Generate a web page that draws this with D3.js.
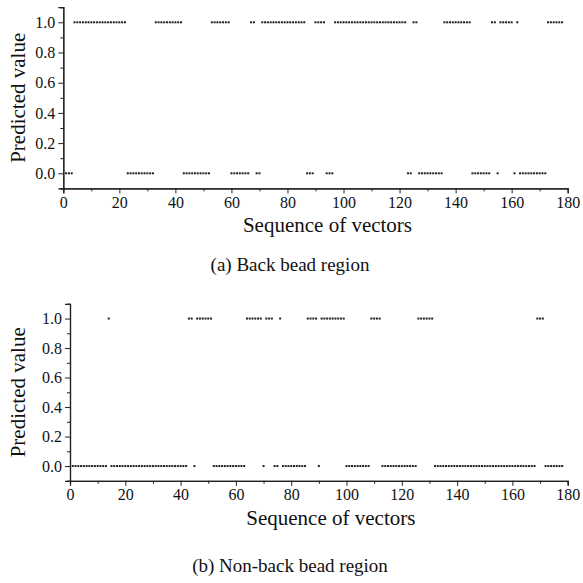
<!DOCTYPE html>
<html>
<head>
<meta charset="utf-8">
<script src="https://cdn.jsdelivr.net/npm/d3@7"></script>
<style>
  body { margin: 0; background: #fff; }
  svg text { font-family: "Liberation Serif", "Times New Roman", Times, "DejaVu Serif", serif; fill: #111; }
</style>
</head>
<body>
<div id="chart"></div>
<script>
// predicted value for vectors 1..178, back bead region
var predBack = [
  0,0,0,1,1,1,1,1,1,1,
  1,1,1,1,1,1,1,1,1,1,
  1,1,0,0,0,0,0,0,0,0,
  0,0,1,1,1,1,1,1,1,1,
  1,1,0,0,0,0,0,0,0,0,
  0,0,1,1,1,1,1,1,1,0,
  0,0,0,0,0,0,1,1,0,0,
  1,1,1,1,1,1,1,1,1,1,
  1,1,1,1,1,1,0,0,0,1,
  1,1,1,0,0,0,1,1,1,1,
  1,1,1,1,1,1,1,1,1,1,
  1,1,1,1,1,1,1,1,1,1,
  1,1,0,0,1,1,0,0,0,0,
  0,0,0,0,0,1,1,1,1,1,
  1,1,1,1,1,0,0,0,0,0,
  0,0,1,1,0,1,1,1,1,1,
  0,1,0,0,0,0,0,0,0,0,
  0,0,1,1,1,1,1,1
];
// predicted value for vectors 1..178, non-back bead region
var predNonBack = [
  0,0,0,0,0,0,0,0,0,0,
  0,0,0,1,0,0,0,0,0,0,
  0,0,0,0,0,0,0,0,0,0,
  0,0,0,0,0,0,0,0,0,0,
  0,0,1,1,0,1,1,1,1,1,
  1,0,0,0,0,0,0,0,0,0,
  0,0,0,1,1,1,1,1,1,0,
  1,1,1,0,0,1,0,0,0,0,
  0,0,0,0,0,1,1,1,1,0,
  1,1,1,1,1,1,1,1,1,0,
  0,0,0,0,0,0,0,0,1,1,
  1,1,0,0,0,0,0,0,0,0,
  0,0,0,0,0,1,1,1,1,1,
  1,0,0,0,0,0,0,0,0,0,
  0,0,0,0,0,0,0,0,0,0,
  0,0,0,0,0,0,0,0,0,0,
  0,0,0,0,0,0,0,0,1,1,
  1,0,0,0,0,0,0,0
];
var xTicks = [0, 20, 40, 60, 80, 100, 120, 140, 160, 180];
var yTicks = [0.0, 0.2, 0.4, 0.6, 0.8, 1.0];
var captions = ["(a) Back bead region", "(b) Non-back bead region"];

var serif = '"Liberation Serif", "Times New Roman", Times, "DejaVu Serif", serif';

var svg = d3.select('#chart').append('svg')
    .attr('width', 583)
    .attr('height', 583);

function drawPanel(values, opt) {
    var x = d3.scaleLinear().domain([0, 180]).range([opt.left, opt.right]);
    var y = d3.scaleLinear().domain([-0.1, 1.1]).range([opt.bottom, opt.top]);
    var g = svg.append('g');

    // minor ticks
    var xMinor = d3.axisBottom(x).tickValues(d3.range(10, 180, 20)).tickSize(3).tickFormat('');
    g.append('g').attr('transform', 'translate(0,' + opt.bottom + ')').call(xMinor);
    var yMinor = d3.axisLeft(y).tickValues([-0.1, 0.1, 0.3, 0.5, 0.7, 0.9, 1.1]).tickSize(3).tickFormat('');
    g.append('g').attr('transform', 'translate(' + opt.left + ',0)').call(yMinor);

    var xAxis = d3.axisBottom(x).tickValues(xTicks).tickSize(5).tickPadding(3).tickFormat(d3.format('d'));
    g.append('g').attr('class', 'xaxis').attr('transform', 'translate(0,' + opt.bottom + ')').call(xAxis);
    var yAxis = d3.axisLeft(y).tickValues(yTicks).tickSize(5).tickPadding(3).tickFormat(d3.format('.1f'));
    g.append('g').attr('class', 'yaxis').attr('transform', 'translate(' + opt.left + ',0)').call(yAxis);

    g.selectAll('g').attr('font-family', serif);
    g.selectAll('.domain').attr('stroke', '#222').attr('stroke-width', 1.2);
    g.selectAll('.tick line').attr('stroke', '#222');
    g.selectAll('.tick text').style('font-size', '16px')
        .style('font-family', serif).attr('fill', '#111');

    g.selectAll('rect.pt')
        .data(values)
        .enter()
        .append('rect')
        .attr('class', 'pt')
        .attr('x', function (d, i) { return x(i + 1) - 1; })
        .attr('y', function (d) { return y(d) - 1; })
        .attr('width', 2)
        .attr('height', 2)
        .style('fill', '#222');

    g.append('text')
        .attr('x', (opt.left + opt.right) / 2 + 12)
        .attr('y', opt.bottom + 44)
        .attr('text-anchor', 'middle')
        .style('font-family', serif)
        .style('font-size', '21px')
        .text('Sequence of vectors');

    g.append('text')
        .attr('transform', 'translate(' + 25 + ',' + y(0.5) + ') rotate(-90)')
        .attr('text-anchor', 'middle')
        .style('font-family', serif)
        .style('font-size', '21px')
        .text('Predicted value');

    g.append('text')
        .attr('x', 290)
        .attr('y', opt.caption)
        .attr('text-anchor', 'middle')
        .style('font-family', serif)
        .style('font-size', '19px')
        .text(opt.title);
}

drawPanel(predBack, {left: 63.3, right: 567.7, top: 7.2, bottom: 188.4, caption: 271, title: captions[0]});
drawPanel(predNonBack, {left: 70, right: 567.7, top: 303.8, bottom: 480.8, caption: 572, title: captions[1]});
</script>
</body>
</html>
